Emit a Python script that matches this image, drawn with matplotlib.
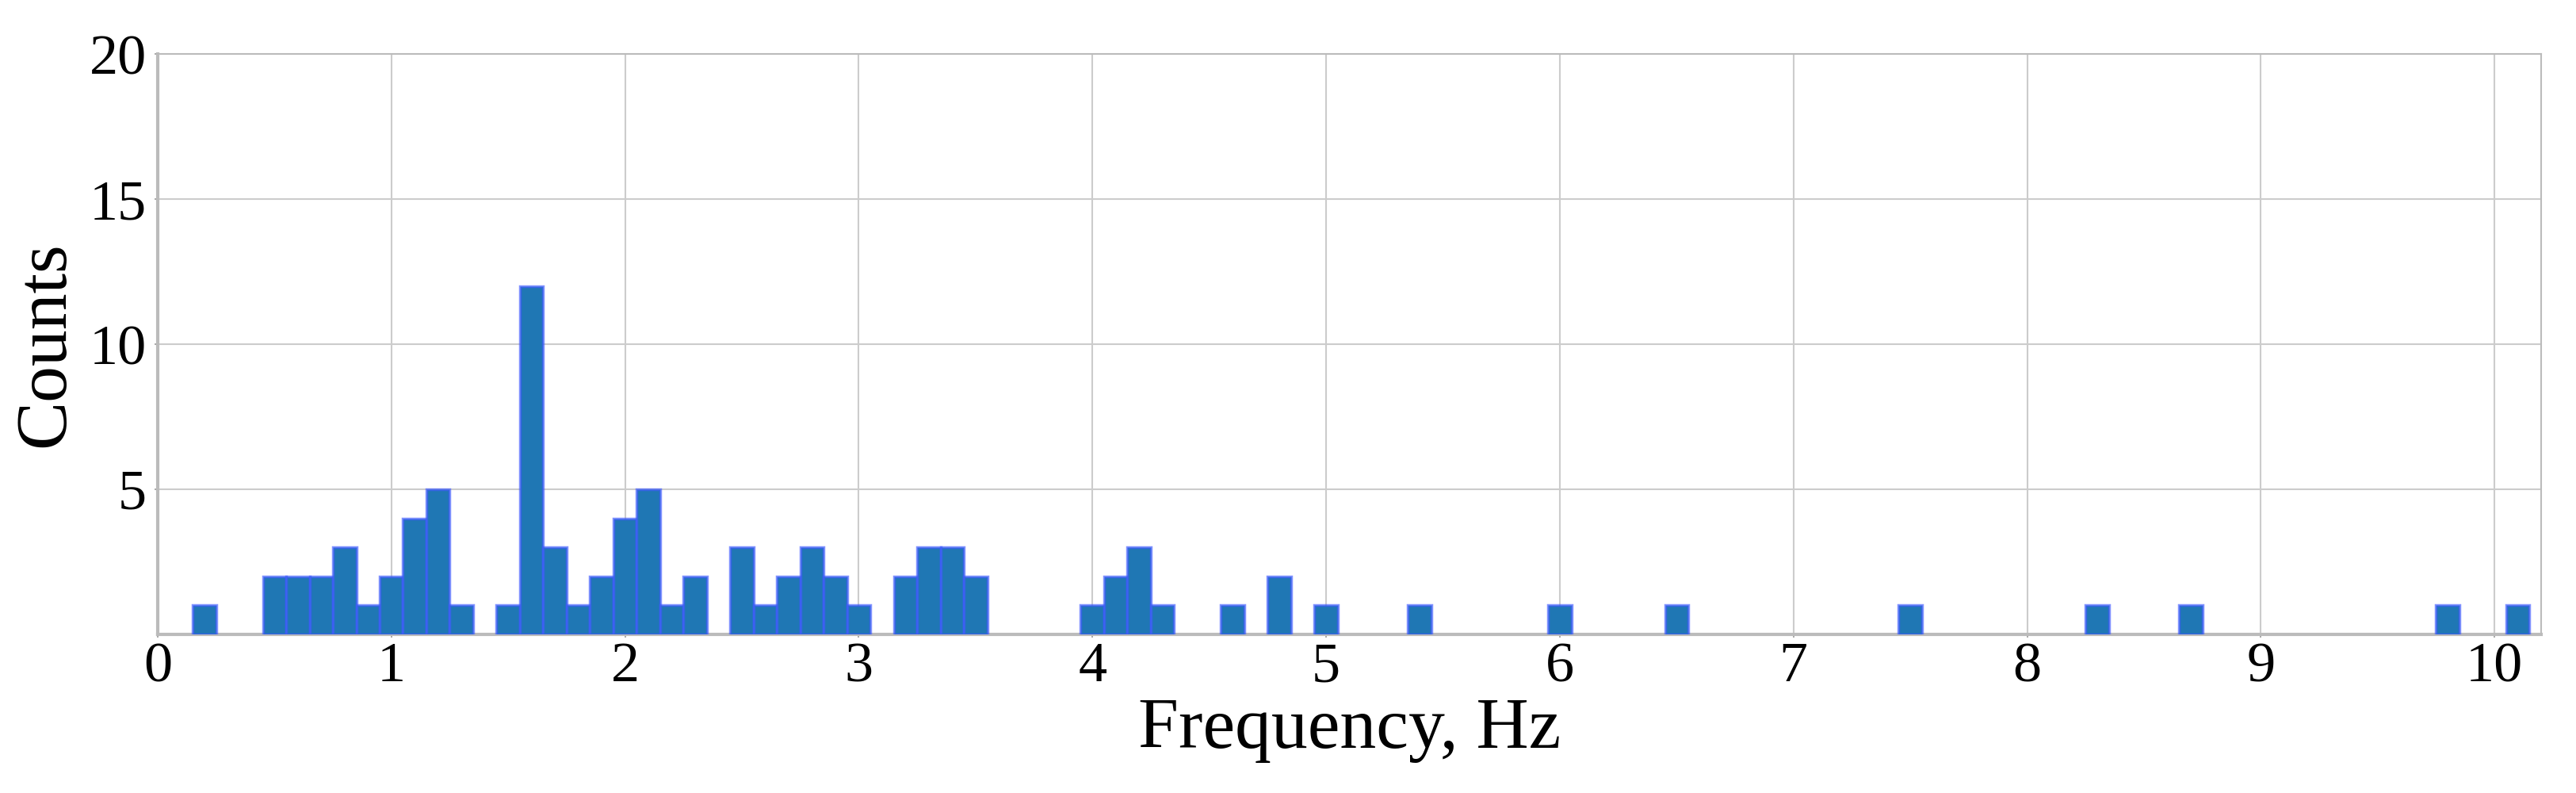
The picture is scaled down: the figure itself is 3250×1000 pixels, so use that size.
import matplotlib
matplotlib.use("Agg")
import matplotlib.pyplot as plt

# Data: histogram bins (centre frequency, Hz) and counts
freqs = [0.2, 0.5, 0.6, 0.7, 0.8, 0.9, 1.0, 1.1, 1.2, 1.3,
         1.5, 1.6, 1.7, 1.8, 1.9, 2.0, 2.1, 2.2, 2.3,
         2.5, 2.6, 2.7, 2.8, 2.9, 3.0,
         3.2, 3.3, 3.4, 3.5,
         4.0, 4.1, 4.2, 4.3, 4.6, 4.8, 5.0, 5.4,
         6.0, 6.5, 7.5, 8.3, 8.7, 9.8, 10.1]
counts = [1, 2, 2, 2, 3, 1, 2, 4, 5, 1,
          1, 12, 3, 1, 2, 4, 5, 1, 2,
          3, 1, 2, 3, 2, 1,
          2, 3, 3, 2,
          1, 2, 3, 1, 1, 2, 1, 1,
          1, 1, 1, 1, 1, 1, 1]
bin_width = 0.1
xticks = list(range(0, 11))
yticks = [5, 10, 15, 20]
xlabel = "Frequency, Hz"
ylabel = "Counts"

plt.rcParams['font.family'] = ['Liberation Serif', 'DejaVu Serif']

fig = plt.figure(figsize=(32.5, 10), dpi=100)
ax = fig.add_axes([0.0612, 0.2, 0.9865 - 0.0612, 0.932 - 0.2])

ax.bar(freqs, counts, width=bin_width, align='center',
       color='#1f77b4', edgecolor=(0.25, 0.35, 1.0, 0.65), linewidth=2.5,
       zorder=3)

ax.set_xlim(0, 10.2)
ax.set_ylim(0, 20)
ax.set_xticks(xticks)
ax.set_yticks(yticks)
ax.grid(True, color='#cccccc', linewidth=1.5, zorder=0)
ax.set_axisbelow(True)

for side in ['left', 'right', 'top', 'bottom']:
    ax.spines[side].set_color('#bbbbbb')
ax.spines['left'].set_linewidth(3)
ax.spines['bottom'].set_linewidth(3)
ax.spines['right'].set_linewidth(1.5)
ax.spines['top'].set_linewidth(1.5)

ax.tick_params(axis='both', labelsize=52, color='#999999', length=3, width=1.2)
ax.tick_params(axis='x', pad=3.5)
ax.tick_params(axis='y', pad=7)
ax.set_xlabel(xlabel, fontsize=66, labelpad=3.6)
ax.set_ylabel(ylabel, fontsize=66, labelpad=10)

fig.savefig("out.png", dpi=100)
